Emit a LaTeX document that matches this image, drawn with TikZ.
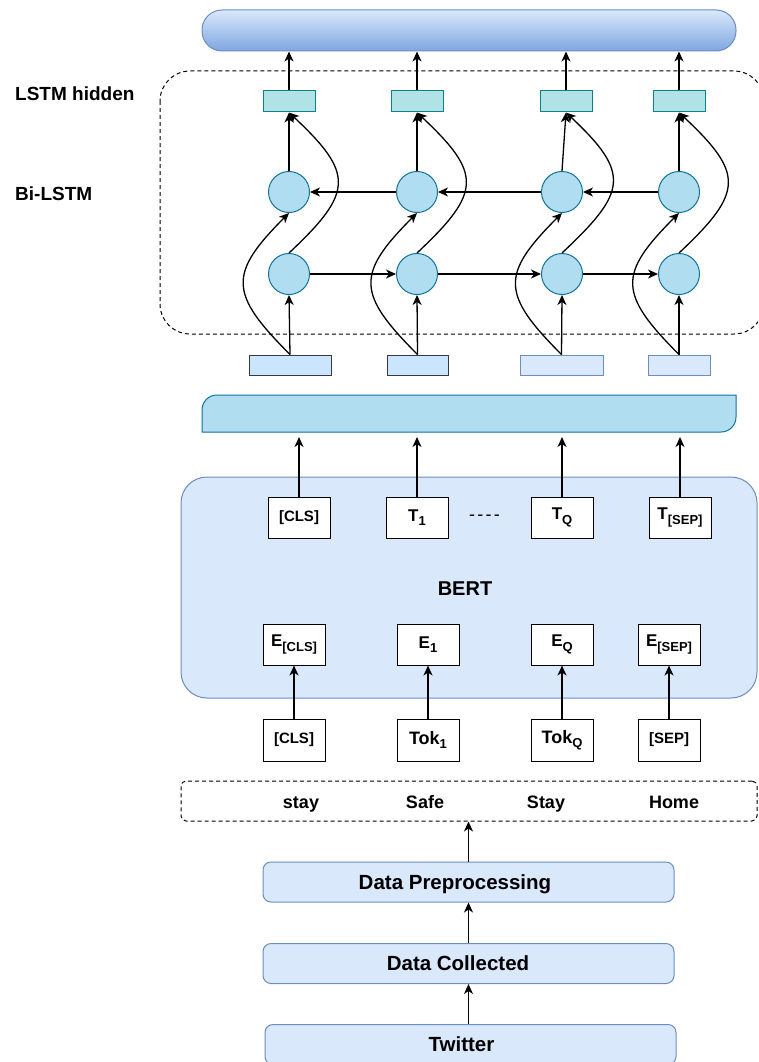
\documentclass[tikz,border=0pt]{standalone}
\usepackage{fontspec}
\setmainfont{Liberation Sans}
\usetikzlibrary{arrows.meta}
\definecolor{pillTop}{HTML}{DAE8FC}
\definecolor{pillBot}{HTML}{7EA6E0}
\definecolor{blueBorder}{HTML}{6C8EBF}
\definecolor{lightBlue}{HTML}{DAE8FC}
\definecolor{tealFill}{HTML}{B0E3E6}
\definecolor{tealBorder}{HTML}{0E8088}
\definecolor{cyanFill}{HTML}{B1DDF0}
\definecolor{cyanBorder}{HTML}{10739E}
\definecolor{inFill}{HTML}{CCE5FF}
\definecolor{inBorder}{HTML}{36393D}
\newcommand\fsz[1]{\fontsize{#1}{#1}\selectfont}
\newcommand\mysub[1]{\raisebox{-0.25em}{\fsz{13}#1}}
\begin{document}
\begin{tikzpicture}[x=1pt,y=-1pt,
  arr/.style={line width=1.3pt,-{Stealth[length=10pt,width=9pt,inset=3pt]}},
  hbox/.style={draw=tealBorder,fill=tealFill,line width=1pt,minimum width=52pt,minimum height=21pt,inner sep=0pt},
  cell/.style={circle,draw=cyanBorder,fill=cyanFill,line width=1pt,minimum size=41pt,inner sep=0pt},
  inA/.style={draw=inBorder,fill=inFill,line width=1pt,minimum height=20pt,inner sep=0pt},
  inB/.style={draw=blueBorder,fill=lightBlue,line width=1pt,minimum height=20pt,inner sep=0pt},
  wbox/.style={draw=black,fill=white,line width=1pt,minimum width=62pt,minimum height=41pt,inner sep=0pt,font=\bfseries\fsz{17}},
  stepbox/.style={draw=blueBorder,fill=lightBlue,line width=1pt,rounded corners=8pt,minimum width=411pt,minimum height=40pt,inner sep=0pt},
  steptext/.style={font=\bfseries\fsz{20.5},inner sep=0pt,anchor=base},
  lbl/.style={font=\bfseries\fsz{19},inner sep=0pt},
  word/.style={font=\bfseries\fsz{18},inner sep=0pt,anchor=base},
]
\useasboundingbox (0,0) rectangle (758,1062);
\fill[white] (0,0) rectangle (758,1062);
\clip (0,0) rectangle (758,1062);

% ---------- top output bar ----------
\node[draw=blueBorder,top color=pillTop,bottom color=pillBot,rounded corners=20pt,
      minimum width=534pt,minimum height=41pt,line width=1pt,inner sep=0pt] (pill) at (469,30.5) {};

% ---------- labels ----------
\node[lbl,anchor=base west] (lblhid) at (15,101) {LSTM hidden};
\node[lbl,anchor=base west] (lblbi) at (15,200) {Bi-LSTM};

% ---------- Bi-LSTM dashed frame ----------
\draw[line width=1pt,dash pattern=on 4pt off 3pt,rounded corners=30pt] (160,71) rectangle (764,334);

% hidden boxes
\node[hbox] (h1) at (289,101.5) {};
\node[hbox] (h2) at (417,101.5) {};
\node[hbox] (h3) at (566,101.5) {};
\node[hbox] (h4) at (679,101.5) {};

% backward cells
\node[cell] (b1) at (289,192) {};
\node[cell] (b2) at (417,192) {};
\node[cell] (b3) at (562,192) {};
\node[cell] (b4) at (679,192) {};
% forward cells
\node[cell] (f1) at (289,274) {};
\node[cell] (f2) at (417,274) {};
\node[cell] (f3) at (562,274) {};
\node[cell] (f4) at (679,274) {};

% input boxes
\node[inA,minimum width=82pt] (i1) at (290,365) {};
\node[inA,minimum width=61pt] (i2) at (417.5,365) {};
\node[inB,minimum width=83pt] (i3) at (561.5,365) {};
\node[inB,minimum width=62pt] (i4) at (679,365) {};

% connectors
\foreach \k in {1,2,3,4}{
  \draw[arr] (h\k.north) -- (h\k.north |- pill.south);
  \draw[arr] (i\k.north) -- (f\k.south);
  \draw[arr] (b\k.north) -- (h\k.south);
  \draw[arr] (f\k.north) .. controls +(65,-61) and +(65,61) .. (h\k.south);
  \draw[arr] (i\k.north) .. controls +(-61,-61) and +(-61,61) .. (b\k.south);
}
\draw[arr] (f1.east) -- (f2.west);
\draw[arr] (f2.east) -- (f3.west);
\draw[arr] (f3.east) -- (f4.west);
\draw[arr] (b4.west) -- (b3.east);
\draw[arr] (b3.west) -- (b2.east);
\draw[arr] (b2.west) -- (b1.east);

% ---------- BERT output bar ----------
\draw[fill=cyanFill,draw=cyanBorder,line width=1pt]
  (202,432) -- (202,410) .. controls (202,401.7) and (208.7,395) .. (217,395)
  -- (736,395) -- (736,417) .. controls (736,425.3) and (729.3,432) .. (721,432) -- cycle;
\coordinate (barS) at (469,432);

% ---------- BERT block ----------
\node[draw=blueBorder,fill=lightBlue,rounded corners=26pt,minimum width=576pt,minimum height=221pt,
      line width=1pt,inner sep=0pt] (bert) at (469,587.5) {};
\node[font=\bfseries\fsz{20},inner sep=0pt,anchor=base] (bertlbl) at (465,595) {BERT};

\node[wbox] (t1) at (299,517.5) {\fsz{15}[CLS]};
\node[wbox] (t2) at (417,517.5) {T\mysub{1}};
\node[wbox] (t3) at (562,517.5) {T\mysub{Q}};
\node[wbox] (t4) at (680,517.5) {T\mysub{[SEP]}};
\node[font=\fsz{18},inner sep=0pt] (dots) at (484.5,518) {-\kern2.2pt-\kern2.2pt-\kern2.2pt-};

\foreach \k in {1,2,3,4}{
  \draw[arr,shorten >=5pt] (t\k.north) -- (t\k.north |- barS);
}

\node[wbox] (e1) at (294,644.5) {E\mysub{[CLS]}};
\node[wbox] (e2) at (428,644.5) {E\mysub{1}};
\node[wbox] (e3) at (562,644.5) {E\mysub{Q}};
\node[wbox] (e4) at (669,644.5) {E\mysub{[SEP]}};

\node[wbox,minimum height=42pt] (k1) at (294,740) {\fsz{15}[CLS]};
\node[wbox,minimum height=42pt] (k2) at (428,740) {\fsz{18}Tok\mysub{1}};
\node[wbox,minimum height=42pt] (k3) at (562,740) {\fsz{18}Tok\mysub{Q}};
\node[wbox,minimum height=42pt] (k4) at (669,740) {\fsz{15}[SEP]};

\foreach \k in {1,2,3,4}{
  \draw[arr] (k\k.north) -- (e\k.south);
}

% ---------- sentence ----------
\node[draw,line width=1pt,dash pattern=on 4pt off 3pt,rounded corners=5pt,minimum width=576pt,minimum height=40pt,inner sep=0pt] (words) at (469,801) {};
\node[word] (w1) at (301,808) {stay};
\node[word] (w2) at (425,808) {Safe};
\node[word] (w3) at (546,808) {Stay};
\node[word] (w4) at (674,808) {Home};

% ---------- pipeline ----------
\node[stepbox] (dp) at (468.5,882) {};
\node[stepbox] (dc) at (468.5,963.5) {};
\node[stepbox] (tw) at (470.5,1044.5) {};
\node[steptext] (dpt) at (455,889.3) {Data Preprocessing};
\node[steptext] (dct) at (458,970.7) {Data Collected};
\node[steptext] (twt) at (461.5,1051.7) {Twitter};

\draw[arr] (dc.south |- tw.north) -- (dc.south);
\draw[arr] (dc.north) -- (dp.south);
\draw[arr] (dp.north) -- (dp.north |- words.south);
\end{tikzpicture}
\end{document}
